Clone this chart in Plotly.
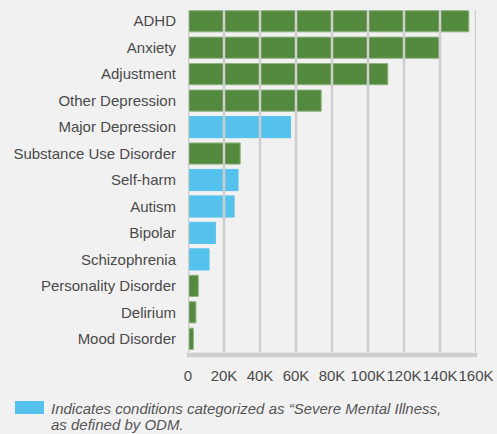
import plotly.graph_objects as go

categories = ["ADHD", "Anxiety", "Adjustment", "Other Depression", "Major Depression",
              "Substance Use Disorder", "Self-harm", "Autism", "Bipolar", "Schizophrenia",
              "Personality Disorder", "Delirium", "Mood Disorder"]
values = [156000, 139500, 111000, 74000, 57000, 29000, 27800, 25600, 15200, 11700, 5700, 4400, 3000]
severe = [False, False, False, False, True, False, True, True, True, True, False, False, False]
tick_vals = [0, 20000, 40000, 60000, 80000, 100000, 120000, 140000, 160000]
tick_text = ["0", "20K", "40K", "60K", "80K", "100K", "120K", "140K", "160K"]

GREEN = "#548a3e"
BLUE = "#55c2ed"
BG = "#f1f1f1"
GRID = "#cecece"
TEXT = "#4a4a4a"

colors = [BLUE if s else GREEN for s in severe]
line_colors = [BLUE if s else "#8fb37f" for s in severe]

fig = go.Figure()
fig.add_trace(go.Bar(
    y=categories, x=values, orientation="h",
    marker=dict(color=colors, line=dict(color=line_colors, width=1)),
    hoverinfo="x+y", showlegend=False,
))

# plot area in page pixels: x 188..476, y 8..352 (height 344, width 288)
shapes = []
for tv in tick_vals:
    shapes.append(dict(type="line", xref="x", yref="paper", x0=tv, x1=tv, y0=0, y1=0.994,
                       line=dict(color=GRID, width=2.5), layer="above"))
shapes.append(dict(type="line", xref="paper", yref="paper", x0=-0.004, x1=1.004, y0=-0.009, y1=-0.009,
                   line=dict(color=GRID, width=4.5), layer="above"))
# legend swatch
shapes.append(dict(type="rect", xref="paper", yref="paper",
                   x0=-0.6007, x1=-0.5, y0=-0.1424, y1=-0.1802,
                   fillcolor=BLUE, line=dict(width=0), layer="above"))

fig.update_layout(
    width=497, height=434,
    margin=dict(l=188, r=21, t=8, b=82),
    paper_bgcolor=BG, plot_bgcolor=BG,
    font=dict(family="Liberation Sans, Arial, sans-serif", color=TEXT),
    bargap=0.2,
    xaxis=dict(range=[0, 160000], tickvals=tick_vals, ticktext=tick_text, showgrid=False,
               zeroline=False, showline=False, ticks="outside", ticklen=10,
               tickcolor="rgba(0,0,0,0)", tickfont=dict(size=15, color=TEXT),
               tickangle=0, automargin=False, fixedrange=True),
    yaxis=dict(autorange="reversed", showgrid=False, zeroline=False, showline=False,
               ticks="outside", ticklen=8, tickcolor="rgba(0,0,0,0)", automargin=False,
               tickfont=dict(size=15, color=TEXT), fixedrange=True),
    shapes=shapes,
    annotations=[
        dict(xref="paper", yref="paper", x=-0.4826, y=-0.1628, xanchor="left", yanchor="middle",
             align="left", showarrow=False,
             text="<i>Indicates conditions categorized as “Severe Mental Illness,</i>",
             font=dict(size=15, color="#555555")),
        dict(xref="paper", yref="paper", x=-0.4826, y=-0.2122, xanchor="left", yanchor="middle",
             align="left", showarrow=False,
             text="<i>as defined by ODM.</i>",
             font=dict(size=15, color="#555555")),
    ],
)

fig.write_html("out.html",
               config={"displayModeBar": False},
               post_script="document.body.style.margin='0';document.body.style.overflow='hidden';"
                           "document.body.style.background='" + BG + "';")
